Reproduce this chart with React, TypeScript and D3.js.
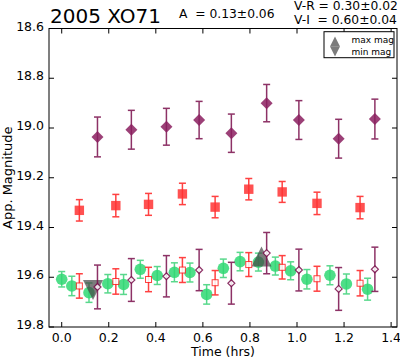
import * as d3 from 'd3';
import React from 'react';

// V band (green circles)
const vTimes = [0.000, 0.043, 0.116, 0.196, 0.263, 0.334, 0.406, 0.479, 0.545, 0.616, 0.687, 0.758, 0.836, 0.908, 0.973, 1.042, 1.140, 1.210, 1.300];
const vMags = [19.608, 19.635, 19.662, 19.626, 19.629, 19.568, 19.593, 19.580, 19.581, 19.669, 19.564, 19.537, 19.539, 19.555, 19.574, 19.608, 19.592, 19.627, 19.648];
const vErrs = [0.031, 0.039, 0.039, 0.037, 0.040, 0.036, 0.036, 0.038, 0.038, 0.039, 0.037, 0.037, 0.036, 0.036, 0.036, 0.039, 0.038, 0.040, 0.044];

// R band (red squares) and R shifted by V-R (hollow)
const rTimes = [0.075, 0.230, 0.369, 0.513, 0.652, 0.795, 0.937, 1.085, 1.268];
const rMags = [19.331, 19.312, 19.307, 19.265, 19.318, 19.246, 19.257, 19.303, 19.320];
const rErrs = [0.043, 0.045, 0.044, 0.043, 0.043, 0.043, 0.042, 0.045, 0.045];
const rShiftMags = [19.635, 19.617, 19.609, 19.571, 19.622, 19.549, 19.560, 19.606, 19.624];
const rShiftErrs = [0.049, 0.051, 0.049, 0.050, 0.049, 0.048, 0.047, 0.050, 0.051];

// I band (purple diamonds) and I shifted by V-I (hollow)
const iTimes = [0.152, 0.296, 0.445, 0.584, 0.721, 0.871, 1.008, 1.177, 1.331];
const iMags = [19.036, 19.007, 18.995, 18.968, 19.021, 18.900, 18.968, 19.043, 18.964];
const iErrs = [0.080, 0.078, 0.074, 0.075, 0.077, 0.075, 0.078, 0.078, 0.080];
const iShiftMags = [19.639, 19.611, 19.596, 19.571, 19.624, 19.503, 19.571, 19.647, 19.568];
const iShiftErrs = [0.088, 0.086, 0.083, 0.083, 0.084, 0.083, 0.084, 0.086, 0.089];

// light curve extremes
const maxMag = { t: 0.849, mag: 19.517 };
const minMag = { t: 0.133, mag: 19.651 };

const xTicks = [0.0, 0.2, 0.4, 0.6, 0.8, 1.0, 1.2, 1.4];
const yTicks = [18.6, 18.8, 19.0, 19.2, 19.4, 19.6, 19.8];

const W = 400, H = 360;
const left = 49, right = 397, top = 28.5, bottom = 327;
const FONT = 'DejaVu Sans, sans-serif';

const GREEN = '#22cc66';
const RED = '#ff2020';
const PURPLE = '#7a0f4c';

function ErrBars({ times, mags, errs, color, x, y, cap = 3.5, opacity = 0.85 }) {
  return (
    <g stroke={color} strokeWidth={1.5} opacity={opacity}>
      {times.map((t, i) => {
        const cx = x(t), y0 = y(mags[i] - errs[i]), y1 = y(mags[i] + errs[i]);
        return (
          <g key={i}>
            <line x1={cx} x2={cx} y1={y0} y2={y1} />
            <line x1={cx - cap} x2={cx + cap} y1={y0} y2={y0} />
            <line x1={cx - cap} x2={cx + cap} y1={y1} y2={y1} />
          </g>
        );
      })}
    </g>
  );
}

function tri(cx, cy, s, up) {
  const h = s / 2;
  return up
    ? `M${cx},${cy - h}L${cx + h},${cy + h}L${cx - h},${cy + h}Z`
    : `M${cx},${cy + h}L${cx + h},${cy - h}L${cx - h},${cy - h}Z`;
}

export default function App() {
  const x = d3.scaleLinear().domain([-0.054, 1.425]).range([left, right]);
  const y = d3.scaleLinear().domain([18.6, 19.8]).range([top, bottom]);
  const fmt = d3.format('.1f');

  return (
    <svg width={W} height={H} style={{ position: 'absolute', left: 0, top: 0, background: '#fff' }} fontFamily={FONT}>
      <rect width={W} height={H} fill="#fff" />

      {/* I band */}
      <ErrBars times={iTimes} mags={iMags} errs={iErrs} color={PURPLE} x={x} y={y} />
      {iTimes.map((t, i) => (
        <path key={i} d={`M${x(t)},${y(iMags[i]) - 6}l6,6l-6,6l-6,-6Z`} fill="#8b1f5f" opacity={0.85} />
      ))}

      {/* R band */}
      <ErrBars times={rTimes} mags={rMags} errs={rErrs} color={RED} x={x} y={y} />
      {rTimes.map((t, i) => (
        <rect key={i} x={x(t) - 4.7} y={y(rMags[i]) - 4.7} width={9.4} height={9.4} fill="#ff3333" opacity={0.85} />
      ))}

      {/* V band */}
      <ErrBars times={vTimes} mags={vMags} errs={vErrs} color={GREEN} x={x} y={y} opacity={0.75} />
      {vTimes.map((t, i) => (
        <circle key={i} cx={x(t)} cy={y(vMags[i])} r={5.8} fill="#2fd873" opacity={0.85} />
      ))}

      {/* extremes */}
      <path d={tri(x(maxMag.t), y(maxMag.mag), 20, true)} fill="#444" opacity={0.7} />
      <path d={tri(x(minMag.t), y(minMag.mag), 20, false)} fill="#444" opacity={0.7} />

      {/* shifted R */}
      <ErrBars times={rTimes} mags={rShiftMags} errs={rShiftErrs} color={RED} x={x} y={y} />
      {rTimes.map((t, i) => (
        <rect key={i} x={x(t) - 3} y={y(rShiftMags[i]) - 3} width={6} height={6} fill="#fff" stroke={RED} strokeWidth={1} opacity={0.85} />
      ))}

      {/* shifted I */}
      <ErrBars times={iTimes} mags={iShiftMags} errs={iShiftErrs} color={PURPLE} x={x} y={y} />
      {iTimes.map((t, i) => (
        <path key={i} d={`M${x(t)},${y(iShiftMags[i]) - 3.5}l3.5,3.5l-3.5,3.5l-3.5,-3.5Z`} fill="#fff" stroke={PURPLE} strokeWidth={1.2} opacity={0.85} />
      ))}

      {/* frame */}
      <rect x={left} y={top} width={right - left} height={bottom - top} fill="none" stroke="#000" strokeWidth={1} />

      {/* x ticks */}
      {xTicks.map((t) => (
        <g key={t}>
          <line x1={x(t)} x2={x(t)} y1={bottom} y2={bottom - 5} stroke="#000" />
          <line x1={x(t)} x2={x(t)} y1={top} y2={top + 5} stroke="#000" />
          <text x={x(t)} y={bottom + 15} textAnchor="middle" fontSize={12.5}>{fmt(t)}</text>
        </g>
      ))}
      {/* y ticks */}
      {yTicks.map((m) => (
        <g key={m}>
          <line x1={left} x2={left + 5} y1={y(m)} y2={y(m)} stroke="#000" />
          <line x1={right} x2={right - 5} y1={y(m)} y2={y(m)} stroke="#000" />
          <text x={left - 5} y={y(m) + 2} textAnchor="end" fontSize={12.5}>{fmt(m)}</text>
        </g>
      ))}

      {/* axis labels */}
      <text x={(left + right) / 2} y={356} textAnchor="middle" fontSize={12.5}>Time (hrs)</text>
      <text transform={`translate(12,${(top + bottom) / 2}) rotate(-90)`} textAnchor="middle" fontSize={13}>App. Magnitude</text>

      {/* titles */}
      <text x={50} y={23} fontSize={20}>2005 XO71</text>
      <text x={179} y={17.5} fontSize={12.3} style={{ whiteSpace: 'pre' }}>A  = 0.13±0.06</text>
      <text x={294} y={10} fontSize={12.3}>V-R = 0.30±0.02</text>
      <text x={294} y={24} fontSize={12.3} style={{ whiteSpace: 'pre' }}>V-I  = 0.60±0.04</text>

      {/* legend */}
      <rect x={324} y={31.7} width={70} height={26} fill="#fff" stroke="#000" strokeWidth={1} />
      <path d={tri(335, 41.5, 10, true)} fill="#444" opacity={0.7} />
      <path d={tri(335, 51.5, 10, false)} fill="#444" opacity={0.7} />
      <text x={351.5} y={42.5} fontSize={9}>max mag</text>
      <text x={351.5} y={54.5} fontSize={9}>min mag</text>
    </svg>
  );
}
